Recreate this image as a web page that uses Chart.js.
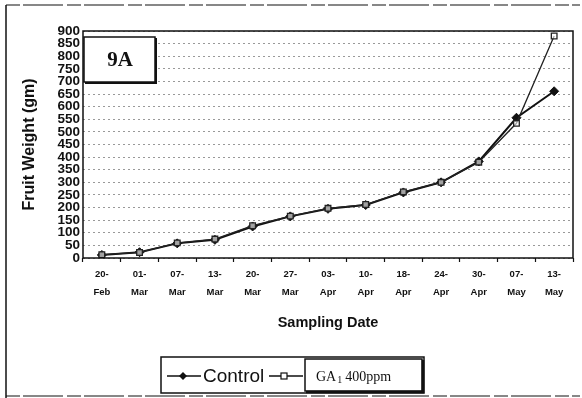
<!DOCTYPE html>
<html>
<head>
<meta charset="utf-8">
<script src="https://cdn.jsdelivr.net/npm/chart.js@4"></script>
<style>
  html, body { margin: 0; padding: 0; background: #fff; }
  #wrap { width: 582px; height: 398px; position: relative; }
</style>
</head>
<body>
<div id="wrap"><canvas id="LineChart" width="582" height="398"></canvas></div>
<script>
const dates = [
  ["20-", "Feb"], ["01-", "Mar"], ["07-", "Mar"], ["13-", "Mar"], ["20-", "Mar"],
  ["27-", "Mar"], ["03-", "Apr"], ["10-", "Apr"], ["18-", "Apr"], ["24-", "Apr"],
  ["30-", "Apr"], ["07-", "May"], ["13-", "May"]
];
const control = [12, 23, 58, 72, 125, 165, 195, 210, 260, 300, 383, 556, 661];
const ga400 = [13, 22, 60, 75, 128, 166, 197, 212, 262, 300, 380, 534, 880];
const yMin = 0;
const yMax = 900;
const yStep = 50;

const ctx = document.getElementById("LineChart").getContext("2d");

// frame, panel tag "9A" and the boxed legend
const decorations = {
  id: "decorations",
  beforeDraw(chart) {
    const c = chart.ctx;
    c.save();
    c.fillStyle = "#fff";
    c.fillRect(0, 0, chart.width, chart.height);
    c.restore();
  },
  afterDraw(chart) {
    const c = chart.ctx;
    const a = chart.chartArea;
    c.save();

    // plot border
    c.strokeStyle = "#111";
    c.lineWidth = 1.5;
    c.strokeRect(a.left, a.top, a.right - a.left, a.bottom - a.top);

    // outer frame
    c.lineWidth = 1.5;
    c.beginPath();
    c.moveTo(6, 5); c.lineTo(6, 398);
    c.stroke();
    c.setLineDash([14, 3, 40, 4]);
    c.lineWidth = 1.2;
    c.beginPath();
    c.moveTo(6, 5); c.lineTo(580, 5);
    c.moveTo(6, 396); c.lineTo(580, 396);
    c.stroke();
    c.setLineDash([]);

    // "9A" tag
    c.fillStyle = "#fff";
    c.fillRect(a.left + 1, 37, 71, 45);
    c.lineWidth = 1.5;
    c.strokeStyle = "#111";
    c.strokeRect(a.left + 1, 37, 71, 45);
    c.lineWidth = 2;
    c.beginPath();
    c.moveTo(a.left + 73, 38); c.lineTo(a.left + 73, 83); c.lineTo(a.left + 2, 83);
    c.stroke();
    c.fillStyle = "#111";
    c.font = "bold 21px 'Liberation Serif', serif";
    c.textAlign = "center";
    c.textBaseline = "middle";
    c.fillText("9A", a.left + 37, 61);

    // legend
    const ds = chart.data.datasets;
    c.lineWidth = 1.5;
    c.strokeRect(161, 357, 263, 36);
    c.fillStyle = "#fff";
    c.fillRect(305, 359, 117, 32);
    c.strokeRect(305, 359, 117, 32);
    c.lineWidth = 2.5;
    c.beginPath();
    c.moveTo(423, 360); c.lineTo(423, 392); c.lineTo(306, 392);
    c.stroke();

    const y = 376;
    c.lineWidth = 1.5;
    c.beginPath();
    c.moveTo(167, y); c.lineTo(201, y);
    c.moveTo(269, y); c.lineTo(303, y);
    c.stroke();
    // diamond
    c.fillStyle = "#111";
    c.beginPath();
    c.moveTo(183, y - 4); c.lineTo(187, y); c.lineTo(183, y + 4); c.lineTo(179, y);
    c.closePath();
    c.fill();
    // square
    c.fillStyle = "#fff";
    c.fillRect(281, y - 3, 6, 6);
    c.lineWidth = 1.2;
    c.strokeRect(281, y - 3, 6, 6);

    c.fillStyle = "#111";
    c.textAlign = "left";
    c.font = "19px 'Liberation Sans', Arial, sans-serif";
    c.fillText(ds[0].label, 203, y + 1);
    c.font = "14px 'Liberation Serif', serif";
    c.fillText("GA", 316, y + 1);
    const gaW = c.measureText("GA").width;
    c.font = "10px 'Liberation Serif', serif";
    c.fillText("1", 316 + gaW + 1, y + 4);
    c.font = "14px 'Liberation Serif', serif";
    c.fillText("400ppm", 316 + gaW + 9, y + 1);

    c.restore();
  }
};

const dataLine = {
  labels: dates,
  datasets: [
    {
      label: "Control",
      data: control,
      borderColor: "#111",
      backgroundColor: "#111",
      borderWidth: 2,
      pointStyle: "rectRot",
      pointRadius: 4.5,
      pointBorderWidth: 1,
      tension: 0,
      order: 1,
    },
    {
      label: "GA1 400ppm",
      data: ga400,
      borderColor: "#222",
      backgroundColor: "rgba(255, 255, 255, 0.6)",
      borderWidth: 1.3,
      pointStyle: "rect",
      pointRadius: 4,
      pointBorderWidth: 1.3,
      tension: 0,
      order: 0,
    },
  ],
};

const configLine = {
  type: "line",
  data: dataLine,
  options: {
    responsive: false,
    animation: false,
    layout: {
      padding: { left: 8, top: 31, right: 9, bottom: 60 },
    },
    plugins: {
      legend: { display: false },
      tooltip: { enabled: false },
    },
    scales: {
      x: {
        offset: true,
        afterFit(scale) { scale.height = 80; },
        grid: {
          display: true,
          offset: true,
          drawOnChartArea: false,
          drawTicks: true,
          tickLength: 4,
          tickColor: "#111",
          tickWidth: 1.2,
        },
        border: { display: false },
        ticks: {
          color: "#111",
          maxRotation: 0,
          autoSkip: false,
          padding: 4,
          font: { family: "'Liberation Sans', Arial, sans-serif", size: 9.5, weight: "bold", lineHeight: 1.85 },
        },
        title: {
          display: true,
          text: "Sampling Date",
          color: "#111",
          padding: { top: 0, bottom: 6 },
          font: { family: "'Liberation Sans', Arial, sans-serif", size: 14.5, weight: "bold" },
        },
      },
      y: {
        min: yMin,
        max: yMax,
        afterFit(scale) { scale.width = 75; },
        grid: {
          color: "rgba(0, 0, 0, 0.5)",
          lineWidth: 0.8,
          drawTicks: false,
        },
        border: { display: false, dash: [2, 3] },
        ticks: {
          stepSize: yStep,
          color: "#111",
          padding: 3,
          autoSkip: false,
          font: { family: "'Liberation Sans', Arial, sans-serif", size: 13.5, weight: "bold", lineHeight: 1 },
        },
        title: {
          display: true,
          text: "Fruit Weight (gm)",
          color: "#111",
          padding: { top: 12, bottom: 0 },
          font: { family: "'Liberation Sans', Arial, sans-serif", size: 16, weight: "bold" },
        },
      },
    },
  },
  plugins: [decorations],
};

const myLineChart = new Chart(ctx, configLine);
</script>
</body>
</html>
